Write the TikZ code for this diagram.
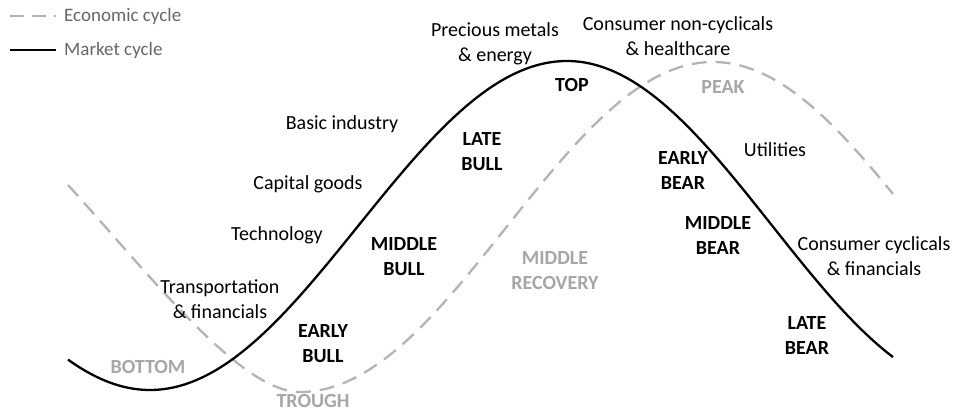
\documentclass[tikz,border=0pt]{standalone}
\usepackage{fontspec}
\setmainfont{Carlito}
\definecolor{econ}{HTML}{B4B4B4}
\definecolor{lbl}{HTML}{A6A6A6}
\definecolor{leg}{HTML}{666666}
\begin{document}
\begin{tikzpicture}[x=1pt,y=-1pt,
  txt/.style={inner sep=0pt,align=center,font=\fontsize{20}{25}\selectfont,text=black},
  phase/.style={txt,font=\fontsize{20}{25}\selectfont\bfseries},
  ephase/.style={phase,text=lbl},
  legtxt/.style={txt,anchor=west,text=leg,font=\fontsize{19}{24}\selectfont},
  mkt/.style={line width=2.3pt,black},
  eco/.style={line width=2.3pt,econ,dash pattern=on 15pt off 9pt}]
\useasboundingbox (0,0) rectangle (954,411);
% economic cycle
\draw[eco] (68,185) .. controls (150,275) and (240,392) .. (300,392)
  -- plot[domain=300:713,samples=80,smooth] (\x,{227+165*cos((\x-300)*0.43584)})
  -- plot[domain=713:893,samples=40,smooth] (\x,{227-165*cos((\x-713)*0.43584)});
% market cycle
\draw[mkt] plot[domain=68:567,samples=100,smooth] (\x,{225.5+164.5*cos((\x-150)*0.43165)})
  -- plot[domain=567:893,samples=70,smooth] (\x,{225.5-164.5*cos((\x-567)*0.43902)});
% legend
\coordinate (e1) at (10,16); \coordinate (e2) at (56,16);
\coordinate (m1) at (10,50); \coordinate (m2) at (56,50);
\draw[eco,line width=1.8pt,dash pattern=on 14pt off 8pt] (e1) -- (e2);
\draw[mkt,line width=1.8pt] (m1) -- (m2);
\node[legtxt] (le) at (64,16) {Economic cycle};
\node[legtxt] (lm) at (64,50) {Market cycle};
% sector labels
\node[txt] (pm) at (495,44) {Precious metals\\\& energy};
\node[txt] (cn) at (678,36) {Consumer non-cyclicals\\\& healthcare};
\node[txt] (bi) at (342,124) {Basic industry};
\node[txt] (cg) at (308,184) {Capital goods};
\node[txt] (te) at (277,235) {Technology};
\node[txt] (tf) at (220,299) {Transportation\\\& financials};
\node[txt] (ut) at (775,150) {Utilities};
\node[txt] (cc) at (874,256) {Consumer cyclicals\\\& financials};
% market phases
\node[phase] (eb) at (323,344) {EARLY\\BULL};
\node[phase] (mb) at (404,257) {MIDDLE\\BULL};
\node[phase] (lb) at (482,152) {LATE\\BULL};
\node[phase] (tp) at (572,85) {TOP};
\node[phase] (ebr) at (683,171) {EARLY\\BEAR};
\node[phase] (mbr) at (718,236) {MIDDLE\\BEAR};
\node[phase] (lbr) at (807,336) {LATE\\BEAR};
% economic phases
\node[ephase] (bo) at (148,367) {BOTTOM};
\node[ephase] (tr) at (313,401) {TROUGH};
\node[ephase] (mr) at (555,271) {MIDDLE\\RECOVERY};
\node[ephase] (pk) at (723,87) {PEAK};
\end{tikzpicture}
\end{document}
